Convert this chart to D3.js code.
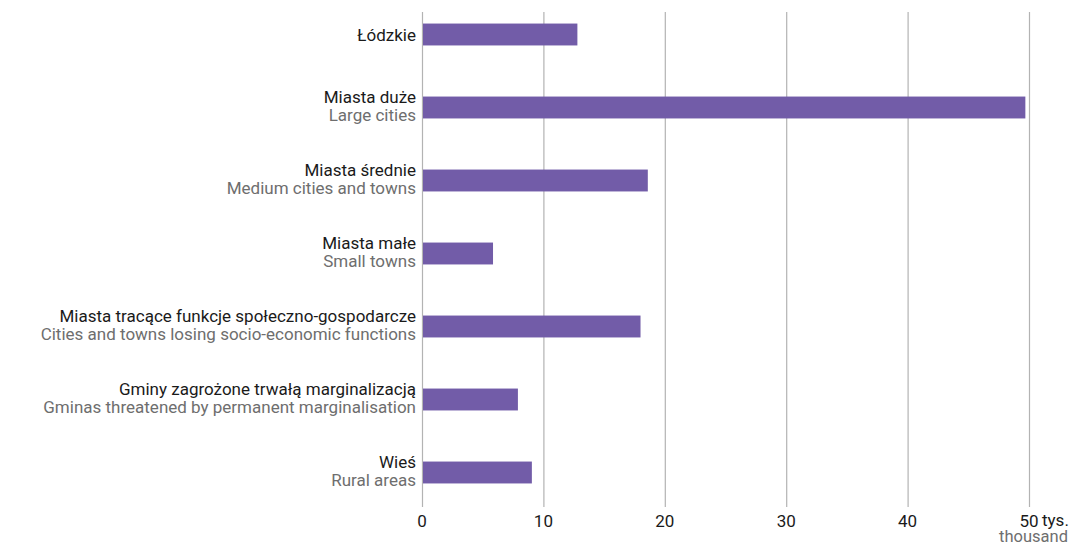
<!DOCTYPE html>
<html><head><meta charset="utf-8">
<script src="https://cdn.jsdelivr.net/npm/d3@7"></script>
<style>body{margin:0;background:#fff}svg{display:block}text{font-family:Roboto,"Noto Sans",sans-serif}</style>
</head><body><svg id="c" width="1072" height="546"></svg>
<script>
const labelsPl = ["Łódzkie","Miasta duże","Miasta średnie","Miasta małe","Miasta tracące funkcje społeczno-gospodarcze","Gminy zagrożone trwałą marginalizacją","Wieś"];
const labelsEn = ["","Large cities","Medium cities and towns","Small towns","Cities and towns losing socio-economic functions","Gminas threatened by permanent marginalisation","Rural areas"];
const values = [12.8, 49.7, 18.6, 5.85, 18.0, 7.9, 9.05];
const ticks = [0,10,20,30,40,50];
const unitPl = "tys.", unitEn = "thousand";

const svg = d3.select("#c");
const x = d3.scaleLinear().domain([0,50]).range([422,1029]);
const y = d3.scaleBand().domain(d3.range(values.length)).range([-2,509]).paddingInner(0.7).paddingOuter(0.35);
const purple = "#725ca8", black="#1a1a1a", gray="#6e6e6e", grid="#b3b3b3";

svg.append("g").selectAll("line").data(ticks).join("line")
  .attr("x1",d=>x(d)+0.5).attr("x2",d=>x(d)+0.5).attr("y1",12).attr("y2",507)
  .attr("stroke",grid).attr("stroke-width",1.2);

svg.append("g").selectAll("rect").data(values).join("rect")
  .attr("x",x(0)+1).attr("y",(d,i)=>y(i)).attr("width",d=>x(d)-x(0)-1).attr("height",y.bandwidth())
  .attr("fill",purple);

const fs = 17;
const lg = svg.append("g");
values.forEach((v,i)=>{
  const cy = y(i)+y.bandwidth()/2;
  if(labelsEn[i]){
    lg.append("text").attr("x",416).attr("y",cy-5).attr("text-anchor","end").attr("font-size",fs).attr("fill",black).text(labelsPl[i]);
    lg.append("text").attr("x",416).attr("y",cy+13).attr("text-anchor","end").attr("font-size",fs).attr("fill",gray).text(labelsEn[i]);
  } else {
    lg.append("text").attr("x",416).attr("y",cy+6).attr("text-anchor","end").attr("font-size",fs).attr("fill",black).text(labelsPl[i]);
  }
});

const ax = svg.append("g");
ax.selectAll("text").data(ticks).join("text")
  .attr("x",d=>x(d)).attr("y",527).attr("text-anchor","middle").attr("font-size",fs).attr("fill",black).text(d=>d);
ax.append("text").attr("x",x(50)+13).attr("y",526).attr("font-size",fs).attr("fill",black).text(unitPl);
ax.append("text").attr("x",1068).attr("y",542).attr("text-anchor","end").attr("font-size",16.5).attr("fill",gray).text(unitEn);
</script></body></html>
